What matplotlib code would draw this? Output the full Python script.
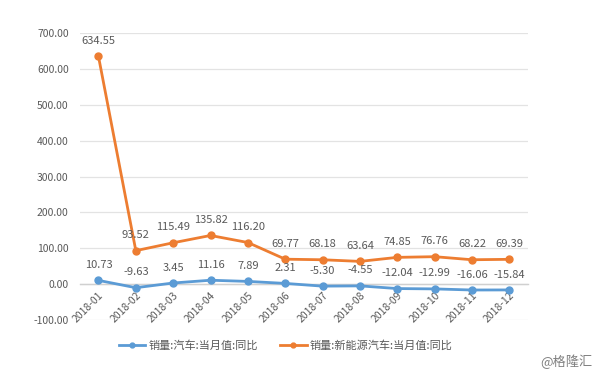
import matplotlib
matplotlib.use('Agg')
import matplotlib.pyplot as plt

plt.rcParams['font.family'] = ['Noto Sans CJK SC', 'DejaVu Sans']
plt.rcParams['axes.unicode_minus'] = False

# 数据
months = ['2018-01', '2018-02', '2018-03', '2018-04', '2018-05', '2018-06',
          '2018-07', '2018-08', '2018-09', '2018-10', '2018-11', '2018-12']
car_yoy = [10.73, -9.63, 3.45, 11.16, 7.89, 2.31,
           -5.30, -4.55, -12.04, -12.99, -16.06, -15.84]
nev_yoy = [634.55, 93.52, 115.49, 135.82, 116.20, 69.77,
           68.18, 63.64, 74.85, 76.76, 68.22, 69.39]
car_label = '销量:汽车:当月值:同比'
nev_label = '销量:新能源汽车:当月值:同比'
yticks = [-100, 0, 100, 200, 300, 400, 500, 600, 700]

BLUE = '#5B9BD5'
ORANGE = '#ED7D31'
TXT = '#595959'

fig = plt.figure(figsize=(6, 3.74), dpi=100)
ax = fig.add_axes([0.133, 0.144, 0.747, 0.768])

# 类别轴在0处（先设置，否则会重置刻度样式）
ax.spines['bottom'].set_position(('data', 0))
ax.spines['bottom'].set_color('#D0D0D0')
ax.spines['bottom'].set_linewidth(1)
for s in ['top', 'left', 'right']:
    ax.spines[s].set_visible(False)

x = list(range(len(months)))
ax.plot(x, car_yoy, color=BLUE, lw=2, marker='o', ms=5, label=car_label, zorder=3)
ax.plot(x, nev_yoy, color=ORANGE, lw=2, marker='o', ms=5, label=nev_label, zorder=3)

# 数据标签
for i, v in enumerate(nev_yoy):
    ax.annotate(f'{v:.2f}', (i, v), xytext=(0, 7.5), textcoords='offset points',
                ha='center', va='bottom', fontsize=8, color=TXT)
for i, v in enumerate(car_yoy):
    ax.annotate(f'{v:.2f}', (i, v), xytext=(0, 7.5), textcoords='offset points',
                ha='center', va='bottom', fontsize=8, color=TXT)

ax.set_xlim(-0.5, len(months) - 0.5)
ax.set_ylim(-100, 700)
ax.set_yticks(yticks)
ax.set_yticklabels([f'{t:.2f}' for t in yticks], fontsize=7.5, color=TXT)
ax.set_xticks(x)
ax.set_xticklabels(months, rotation=45, ha='right', rotation_mode='anchor',
                   fontsize=7.5, color=TXT)
ax.tick_params(length=0)
ax.tick_params(axis='y', pad=8)
ax.tick_params(axis='x', pad=4)
ax.grid(axis='y', color='#E3E3E3', lw=0.9)
ax.set_axisbelow(True)

fig.legend(loc='center', bbox_to_anchor=(0.476, 0.077), ncol=2, frameon=False,
           fontsize=8, labelcolor=TXT, handlelength=2.4, handletextpad=0.27,
           columnspacing=2.0, markerscale=0.7)

fig.text(0.987, 0.032, '@格隆汇', ha='right', va='center', fontsize=9.5, color='#808080')

plt.savefig('out.png', dpi=100)
plt.close()
